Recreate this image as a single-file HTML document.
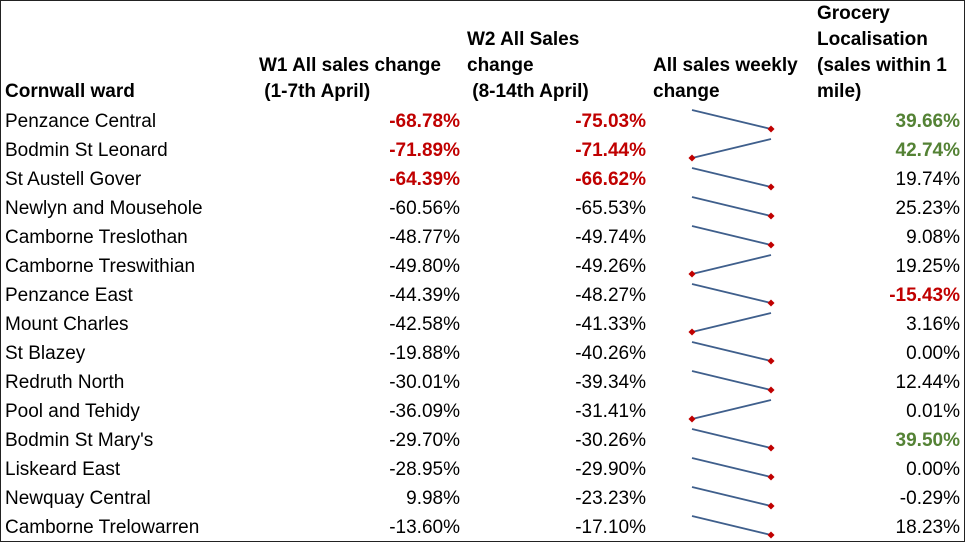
<!DOCTYPE html>
<html><head><meta charset="utf-8"><style>
body{margin:0;width:965px;height:542px;overflow:hidden;background:#fff;font-family:"Liberation Sans",Arial,sans-serif}
#frame{position:absolute;left:0;top:0;width:963px;height:540px;border:1px solid #222}
.h{position:absolute;font-weight:bold;font-size:19px;line-height:26px;color:#000;white-space:nowrap}
.c{position:absolute;font-size:19px;line-height:29px;height:29px;white-space:nowrap}
.r{text-align:right}
.red{color:#c00000;font-weight:bold}
.grn{color:#548235;font-weight:bold}
</style></head><body>
<div id="frame"></div>
<div class="h" style="left:5px;top:79px">Cornwall ward</div>
<div class="h" style="left:259px;top:53px">W1 All sales change<br>&nbsp;(1-7th April)</div>
<div class="h" style="left:467px;top:27px">W2 All Sales<br>change<br>&nbsp;(8-14th April)</div>
<div class="h" style="left:653px;top:53px">All sales weekly<br>change</div>
<div class="h" style="left:817px;top:1px">Grocery<br>Localisation<br>(sales within 1<br>mile)</div>
<svg id="spark" width="965" height="542" style="position:absolute;left:0;top:0"></svg>
<div id="rows"></div>
<script>
const wards=["Penzance Central","Bodmin St Leonard","St Austell Gover","Newlyn and Mousehole","Camborne Treslothan","Camborne Treswithian","Penzance East","Mount Charles","St Blazey","Redruth North","Pool and Tehidy","Bodmin St Mary's","Liskeard East","Newquay Central","Camborne Trelowarren"];
const w1=[-68.78,-71.89,-64.39,-60.56,-48.77,-49.80,-44.39,-42.58,-19.88,-30.01,-36.09,-29.70,-28.95,9.98,-13.60];
const w2=[-75.03,-71.44,-66.62,-65.53,-49.74,-49.26,-48.27,-41.33,-40.26,-39.34,-31.41,-30.26,-29.90,-23.23,-17.10];
const groc=[39.66,42.74,19.74,25.23,9.08,19.25,-15.43,3.16,0.00,12.44,0.01,39.50,0.00,-0.29,18.23];
const w1Red=[1,1,1,0,0,0,0,0,0,0,0,0,0,0,0];
const grocStyle=["grn","grn","","","","","red","","","","","grn","","",""];
const rowsEl=document.getElementById('rows');
const svg=document.getElementById('spark');
const NS="http://www.w3.org/2000/svg";
const top0=107,rh=29;
const f=v=>v.toFixed(2)+'%';
wards.forEach((w,i)=>{
  const y=top0+i*rh;
  const mk=(txt,left,width,cls,name)=>{
    const d=document.createElement('div');
    d.className='c '+cls;
    d.style.left=left+'px';d.style.top=y+'px';if(width)d.style.width=width+'px';
    d.textContent=txt;
    
    
    rowsEl.appendChild(d);
  };
  mk(w,5,0,'','ward-name');
  mk(f(w1[i]),260,200,'r'+(w1Red[i]?' red':''),'w1-change');
  mk(f(w2[i]),450,196,'r'+(w1Red[i]?' red':''),'w2-change');
  mk(f(groc[i]),760,200,'r '+grocStyle[i],'grocery-localisation');
  const lo=Math.min(w1[i],w2[i]),hi=Math.max(w1[i],w2[i]);
  const sy=v=>hi===lo?y+14:y+3+(hi-v)/(hi-lo)*19;
  const x1=692,x2=771;
  const ln=document.createElementNS(NS,'line');
  ln.setAttribute('x1',x1);ln.setAttribute('y1',sy(w1[i]));
  ln.setAttribute('x2',x2);ln.setAttribute('y2',sy(w2[i]));
  ln.setAttribute('stroke','#3f5f8c');ln.setAttribute('stroke-width','1.8');
  
  
  svg.appendChild(ln);
  const mx=w1[i]<w2[i]?x1:x2,mv=lo;
  const dot=document.createElementNS(NS,'rect');
  dot.setAttribute('x',mx-2.5);dot.setAttribute('y',sy(mv)-2.5);
  dot.setAttribute('width',5);dot.setAttribute('height',5);
  dot.setAttribute('fill','#c00000');
  dot.setAttribute('transform','rotate(45 '+mx+' '+sy(mv)+')');
  
  
  svg.appendChild(dot);
});
</script>
</body></html>
